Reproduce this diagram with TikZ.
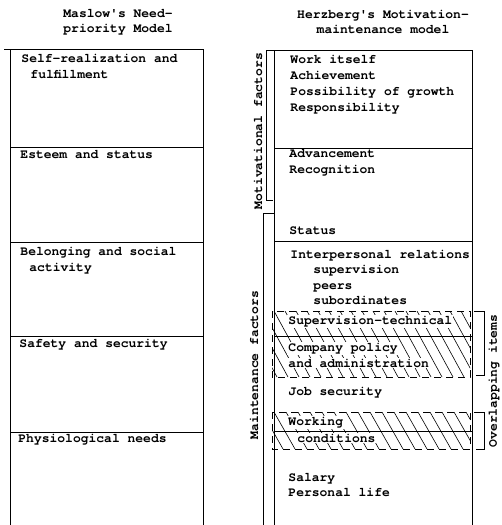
\documentclass[tikz,border=0pt]{standalone}
\usepackage{fontspec}
\setmonofont{TeX Gyre Cursor}

\begin{document}
\begin{tikzpicture}
  [x=1pt,y=-1pt,line width=.9pt,
   every node/.style={font=\ttfamily\bfseries\fontsize{13}{15}\selectfont,inner sep=1pt},
   item/.style={anchor=mid west,fill=white},
   side/.style={rotate=90},
   overlap/.style={dash pattern=on 7pt off 5pt}]
  \useasboundingbox (0,0) rectangle (501,525);

  % headings
  \node[align=center] (maslow) at (118,22) {Maslow's Need-\\priority Model};
  \node[align=center] (herzberg) at (383,22) {Herzberg's Motivation-\\maintenance model};

  % hatched (overlapping) bands
  \begin{scope}
    \clip (272,311) rectangle (470,377);
    \foreach \x in {230,241,...,470}
      \draw[line width=.6pt] (\x,311) -- (\x+36,377);
  \end{scope}
  \begin{scope}
    \clip (272,412) rectangle (470,449);
    \foreach \x in {250,262,...,470}
      \draw[line width=.6pt] (\x,412) -- (\x+21,449);
  \end{scope}
  \draw[overlap] (272,311) rectangle (470,377);
  \draw[overlap] (272,412) rectangle (470,449);

  % Maslow
  \node[item] (self)  at (20,60)  {Self-realization and};
  \node[item] (fulf)  at (29,76)  {fulfillment};
  \node[item] (est)   at (19,156) {Esteem and status};
  \node[item] (bel)   at (19,253) {Belonging and social};
  \node[item] (act)   at (28,269) {activity};
  \node[item] (safe)  at (18,345) {Safety and security};
  \node[item] (phys)  at (17,440) {Physiological needs};

  % Herzberg
  \node[item] (work)  at (289,61)  {Work itself};
  \node[item] (ach)   at (289,77)  {Achievement};
  \node[item] (grow)  at (289,93)  {Possibility of growth};
  \node[item] (resp)  at (289,109) {Responsibility};
  \node[item] (adv)   at (288,155) {Advancement};
  \node[item] (rec)   at (288,171) {Recognition};
  \node[item] (stat)  at (288,232) {Status};
  \node[item] (inter) at (289,256) {Interpersonal relations};
  \node[item] (sup)   at (312,271) {supervision};
  \node[item] (peer)  at (312,287) {peers};
  \node[item] (sub)   at (312,302) {subordinates};
  \node[item] (tech)  at (287,322) {Supervision-technical};
  \node[item] (pol)   at (287,349) {Company policy};
  \node[item] (adm)   at (287,365) {and administration};
  \node[item] (job)   at (287,393) {Job security};
  \node[item] (wrk)   at (287,423) {Working};
  \node[item] (cond)  at (296,440) {conditions};
  \node[item] (sal)   at (287,479) {Salary};
  \node[item] (pers)  at (287,494) {Personal life};

  % columns
  \draw (10,525) -- (10,49) -- (203,49) -- (203,525);
  \draw (4,49) -- (10,49);
  \foreach \y in {147,242,336,432}
    \draw (10,\y) -- (203,\y);

  \draw (274,525) -- (274,50) -- (472,50) -- (472,525);
  \foreach \y in {148,241,336,431}
    \draw (274,\y) -- (472,\y);

  % brackets
  \draw (274,50) -- (266,50) -- (266,200) -- (273,200);
  \draw (274,213) -- (263,213) -- (263,525);
  \draw (474,311) -- (484,311) -- (484,375) -- (476,375);
  \draw (474,412) -- (484,412) -- (484,449) -- (476,449);

  \node[side] (motiv) at (258,131) {Motivational factors};
  \node[side] (maint) at (254,365) {Maintenance factors};
  \node[side] (over)  at (494,381) {Overlapping items};

\end{tikzpicture}
\end{document}
